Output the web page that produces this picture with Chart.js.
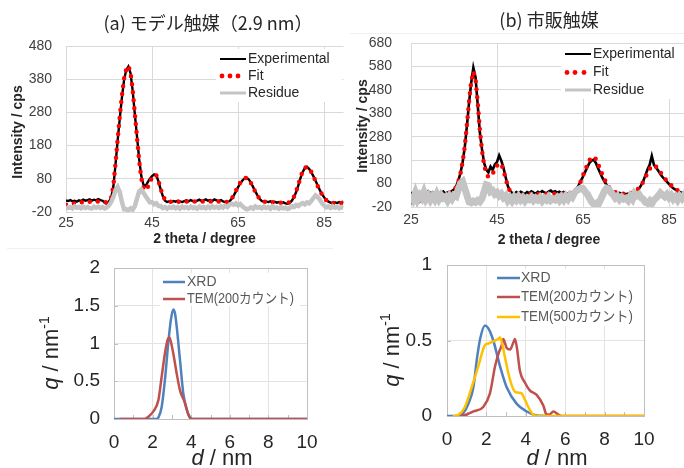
<!DOCTYPE html>
<html><head><meta charset="utf-8">
<script src="https://cdn.jsdelivr.net/npm/chart.js@4.4.1/dist/chart.umd.min.js"></script>
<style>
html,body{margin:0;padding:0;background:#fff;overflow:hidden;width:684px;height:468px;}
canvas{position:absolute;left:0;top:0;}
</style></head><body>
<canvas id="ca" width="700" height="468"></canvas>
<canvas id="cb" width="700" height="468"></canvas>
<canvas id="cc" width="700" height="468"></canvas>
<canvas id="cd" width="700" height="468"></canvas>
<script>
// ---------- data ----------
const theta = [25,25.5,26,26.5,27,27.5,28,28.5,29,29.5,30,30.5,31,31.5,32,32.5,33,33.5,34,34.5,35,35.5,36,36.5,37,37.5,38,38.5,39,39.5,40,40.5,41,41.5,42,42.5,43,43.5,44,44.5,45,45.5,46,46.5,47,47.5,48,48.5,49,49.5,50,50.5,51,51.5,52,52.5,53,53.5,54,54.5,55,55.5,56,56.5,57,57.5,58,58.5,59,59.5,60,60.5,61,61.5,62,62.5,63,63.5,64,64.5,65,65.5,66,66.5,67,67.5,68,68.5,69,69.5,70,70.5,71,71.5,72,72.5,73,73.5,74,74.5,75,75.5,76,76.5,77,77.5,78,78.5,79,79.5,80,80.5,81,81.5,82,82.5,83,83.5,84,84.5,85,85.5,86,86.5,87,87.5,88,88.5,89,89.5,90];

const expA = [15,13,16,12,14,11,15,13,17,14,
16,18,14,17,15,19,16,14,8,5,
12,22,55,122,195,262,325,378,408,418,
398,345,275,208,140,88,62,58,70,80,
88,93,90,72,48,28,14,10,12,10,
13,11,14,12,10,13,15,12,16,13,
11,14,17,13,15,18,14,16,13,18,
15,13,16,12,10,8,12,20,30,42,
55,66,75,81,83,78,68,55,42,30,
20,13,11,12,10,12,9,11,8,10,
7,9,6,5,8,14,25,40,60,82,
100,112,116,110,100,88,74,60,46,34,
24,16,11,8,6,9,7,10,8,11,
9];
const fitA = [2,3,4,5,6,7,8,9,9,10,
10,11,11,11,12,12,12,11,10,9,
12,24,58,125,198,268,330,382,410,420,
400,348,276,205,135,82,52,45,55,70,
84,92,90,74,50,30,17,12,11,11,
11,11,11,11,11,12,12,12,12,12,
12,12,12,12,12,12,12,12,12,12,
12,12,12,12,11,10,13,20,31,44,
57,68,77,82,83,78,67,54,41,29,
20,14,11,10,10,9,9,9,8,8,
8,8,8,8,9,15,26,42,62,84,
102,113,116,111,101,88,73,58,45,33,
23,16,11,8,7,7,7,7,7,7,
7];
const resA = [-4,-8,-5,-9,-3,-7,-5,-9,-4,-8,
-5,-8,-9,-4,-7,-4,-8,-5,-9,-6,
0,10,25,45,55,40,10,-12,-12,-15,
-9,-13,-2,20,42,48,38,28,18,9,
10,3,6,-2,-2,-8,-5,-10,-5,-8,
-4,-9,-5,-10,-4,-8,-5,-9,-4,-8,
-6,-10,-4,-8,-5,-9,-4,-8,-3,-7,
-4,-8,-3,-7,-1,-5,2,5,2,6,
0,4,-3,-8,-12,-10,-6,-10,-3,-7,
-5,-9,-4,-8,-5,-10,-3,-8,-6,-10,
-5,-9,-7,-11,-8,-3,-5,1,-2,4,
7,3,9,6,13,22,30,25,17,6,
0,-6,-3,-8,-3,-7,-4,-9,-5,-8,
-6];

const expB = [42,35,46,38,44,34,41,37,47,39,
43,36,45,40,38,46,37,42,39,48,
55,68,92,125,170,235,325,425,510,575,
535,420,300,228,168,140,128,152,138,162,
172,200,178,148,108,70,50,40,36,44,
38,45,40,36,44,39,47,41,37,45,
40,48,42,38,46,50,43,47,41,45,
39,44,40,37,42,38,45,58,72,92,
110,130,150,168,178,182,168,145,125,105,
88,74,62,52,45,42,38,40,36,38,
34,37,35,38,40,48,58,72,90,115,
140,160,198,160,148,135,120,108,98,88,
78,68,60,54,48,44,40,42,38,40,
37];
const fitB = [0,1,2,4,5,8,12,16,20,24,
28,31,33,35,36,37,38,40,42,46,
52,65,88,122,172,238,330,430,515,558,
528,430,312,222,160,124,108,110,122,140,
156,166,162,138,102,70,48,36,30,29,
30,31,32,33,34,35,35,36,36,36,
36,36,36,36,36,36,36,37,37,37,
37,37,37,38,39,41,44,55,70,90,
115,138,160,180,192,195,185,165,140,118,
98,80,65,55,48,43,40,38,37,36,
36,37,38,41,45,51,60,72,88,106,
125,142,156,158,152,142,128,115,102,92,
82,73,64,57,51,46,42,39,37,36,
35];
const resB = [35,15,40,12,30,18,42,14,28,10,
26,12,34,14,30,18,24,8,26,14,
30,25,55,80,88,60,30,2,-2,5,
0,8,2,15,45,75,72,45,50,35,
42,28,36,20,28,8,20,6,22,10,
24,10,20,6,18,12,22,8,18,10,
20,6,18,10,22,8,15,10,20,8,
22,10,26,14,30,22,40,50,55,60,
58,45,35,18,2,-8,-4,-10,8,28,
48,60,56,42,32,18,26,12,22,14,
18,8,26,14,38,28,34,20,14,0,
-4,6,-6,10,18,28,40,32,24,34,
20,30,14,24,10,26,16,30,14,24,
16];

// size distributions
const dL_xrd = [0,2.2,2.3,2.47,2.64,2.81,2.95,3.07,3.16,3.25,3.42,3.59,3.77,3.94,4.05,10];
const qL_xrd = [0,0,0.02,0.16,0.52,1.0,1.32,1.45,1.40,1.22,0.78,0.34,0.12,0.02,0,0];
const dL_tem = [0.3,1.6,1.78,2.04,2.3,2.47,2.64,2.78,2.87,2.95,3.07,3.25,3.42,3.68,3.85,4.0,10];
const qL_tem = [0,0,0.03,0.10,0.25,0.56,0.87,1.05,1.08,1.02,0.87,0.60,0.38,0.21,0.06,0,0];

const dR_xrd = [0,0.6,0.83,1.08,1.34,1.51,1.68,1.93,2.1,2.35,2.69,3.03,3.54,4.05,4.5,5.0];
const qR_xrd = [0,0,0.02,0.08,0.19,0.37,0.51,0.60,0.58,0.50,0.33,0.19,0.08,0.03,0.005,0];
const dR_t200 = [0.67,1.0,1.34,1.84,2.18,2.44,2.63,2.78,2.86,2.95,3.03,3.2,3.35,3.45,3.55,3.7,3.96,4.2,4.55,4.89,5.05,5.2,5.4,5.65,5.8,10];
const qR_t200 = [0,0.01,0.03,0.06,0.15,0.33,0.42,0.47,0.51,0.48,0.45,0.44,0.48,0.51,0.45,0.30,0.22,0.17,0.14,0.07,0.01,0.01,0.03,0.01,0,0];
const dR_t500 = [0.3,0.6,0.91,1.25,1.59,1.93,2.1,2.27,2.45,2.6,2.69,2.8,2.94,3.2,3.45,3.6,3.79,3.95,4.05,4.3,4.55,10];
const qR_t500 = [0,0.01,0.06,0.19,0.33,0.47,0.48,0.49,0.50,0.51,0.52,0.48,0.39,0.24,0.16,0.155,0.15,0.11,0.08,0.02,0,0];

// ticks & labels
const xTicksTop = [25,45,65,85];
const yTicksA = [-20,80,180,280,380,480];
const yTicksB = [-20,80,180,280,380,480,580,680];
const dTicks = [0,2,4,6,8,10];
const qTicksL = [0,0.5,1,1.5,2];
const qTicksR = [0,0.5,1];
const legendTop = ['Experimental','Fit','Residue'];
const legendBL = ['XRD','TEM(200カウント)'];
const legendBR = ['XRD','TEM(200カウント)','TEM(500カウント)'];
const titleA = '(a) モデル触媒（2.9 nm）';
const titleB = '(b) 市販触媒';

// ---------- helpers ----------
const LAT = '"Liberation Sans", Arial, "Noto Sans CJK JP", sans-serif';
const CJK = '"Noto Sans CJK JP", "Liberation Sans", sans-serif';
const pts = (xs, ys) => xs.map((x, i) => ({x: x, y: ys[i]}));

function linScale(min, max, ticks, opts) {
  return {
    type: 'linear', min: min, max: max,
    afterBuildTicks: s => { s.ticks = ticks.map(v => ({value: v})); },
    afterFit: s => { if (opts.w !== undefined) s.width = opts.w; if (opts.h !== undefined) s.height = opts.h; },
    grid: {color: opts.grid, drawTicks: false, lineWidth: 1},
    border: {display: opts.border !== false, color: opts.grid},
    ticks: {font: {family: LAT, size: opts.fs}, color: opts.tc, padding: opts.pad,
            maxRotation: 0, autoSkip: false, callback: v => String(v)}
  };
}

function drawLegend(ctx, box, items, x0, x1, tx, ys, font, color) {
  ctx.fillStyle = '#fff';
  ctx.fillRect(box[0], box[1], box[2], box[3]);
  items.forEach((it, i) => {
    const y = ys[i];
    if (it.dots) {
      ctx.fillStyle = it.color;
      it.dots.forEach(dx => { ctx.beginPath(); ctx.arc(dx, y, 2.4, 0, Math.PI * 2); ctx.fill(); });
    } else {
      ctx.strokeStyle = it.color; ctx.lineWidth = it.w; ctx.lineCap = 'butt';
      ctx.beginPath(); ctx.moveTo(x0, y); ctx.lineTo(x1, y); ctx.stroke();
    }
    ctx.fillStyle = color; ctx.font = font; ctx.textAlign = 'left'; ctx.textBaseline = 'middle';
    if (it.maxW) ctx.fillText(it.label, tx, y, it.maxW); else ctx.fillText(it.label, tx, y);
  });
}

function text(ctx, s, x, y, font, color, rot) {
  ctx.save();
  ctx.translate(x, y);
  if (rot) ctx.rotate(-Math.PI / 2);
  ctx.font = font; ctx.fillStyle = color; ctx.textAlign = 'center'; ctx.textBaseline = 'middle';
  ctx.fillText(s, 0, 0);
  ctx.restore();
}

function drawDnm(ctx, cx, by) {
  const fi = 'italic 22px ' + LAT, fn = '22px ' + LAT;
  ctx.font = fi; const w1 = ctx.measureText('d').width;
  ctx.font = fn; const w2 = ctx.measureText(' / nm').width;
  const x = cx - (w1 + w2) / 2;
  ctx.fillStyle = '#262626'; ctx.textAlign = 'left'; ctx.textBaseline = 'alphabetic';
  ctx.font = fi; ctx.fillText('d', x, by);
  ctx.font = fn; ctx.fillText(' / nm', x + w1, by);
}

function drawQ(ctx, bx, cy) {
  const fi = 'italic 22px ' + LAT, fn = '22px ' + LAT, fs = '14px ' + LAT;
  ctx.save();
  ctx.translate(bx, cy); ctx.rotate(-Math.PI / 2);
  ctx.font = fi; const w1 = ctx.measureText('q').width;
  ctx.font = fn; const w2 = ctx.measureText(' / nm').width;
  ctx.font = fs; const w3 = ctx.measureText('-1').width;
  const x = -(w1 + w2 + w3) / 2;
  ctx.fillStyle = '#262626'; ctx.textAlign = 'left'; ctx.textBaseline = 'alphabetic';
  ctx.font = fi; ctx.fillText('q', x, 0);
  ctx.font = fn; ctx.fillText(' / nm', x + w1, 0);
  ctx.font = fs; ctx.fillText('-1', x + w1 + w2, -9);
  ctx.restore();
}

function boxAndTicks(chart) {
  const ctx = chart.ctx, a = chart.chartArea, xs = chart.scales.x, ys = chart.scales.y;
  ctx.save();
  ctx.strokeStyle = '#bfbfbf'; ctx.lineWidth = 1;
  ctx.strokeRect(Math.round(a.left) + 0.5, Math.round(a.top) + 0.5, Math.round(a.right - a.left), Math.round(a.bottom - a.top));
  ctx.beginPath();
  for (let v = 1; v < 10; v++) {
    const px = Math.round(xs.getPixelForValue(v)) + 0.5;
    ctx.moveTo(px, a.bottom); ctx.lineTo(px, a.bottom - 4);
  }
  ys.ticks.forEach(t => {
    const py = Math.round(ys.getPixelForValue(t.value)) + 0.5;
    ctx.moveTo(a.left, py); ctx.lineTo(a.left + 4, py);
  });
  ctx.stroke();
  ctx.restore();
}

const common = {
  responsive: false, animation: false, devicePixelRatio: 1,
  elements: {point: {radius: 0, hoverRadius: 0}, line: {tension: 0}},
  plugins: {legend: {display: false}, tooltip: {enabled: false}, title: {display: false}},
  events: []
};

// ---------- chart (a) XRD ----------
new Chart(document.getElementById('ca'), {
  type: 'line',
  data: {datasets: [
    {label: legendTop[0], data: pts(theta, expA), borderColor: '#000', borderWidth: 2.4, order: 3},
    {label: legendTop[1], data: pts(theta, fitA), borderColor: '#ff0000', borderWidth: 4.5, borderDash: [0, 8], borderCapStyle: 'round', order: 2},
    {label: legendTop[2], data: pts(theta, resA), borderColor: '#c4c4c4', borderWidth: 4.5, order: 1}
  ]},
  options: Object.assign({}, common, {
    layout: {padding: {left: 26, top: 46, right: 356.5, bottom: 236}},
    scales: {
      x: linScale(25, 89.5, xTicksTop, {h: 20, grid: '#d9d9d9', fs: 14, tc: '#404040', pad: 3}),
      y: linScale(-20, 480, yTicksA, {w: 40, grid: '#d9d9d9', fs: 14, tc: '#404040', pad: 14})
    }
  }),
  plugins: [{id: 'decoA', afterDraw(chart) {
    const ctx = chart.ctx;
    ctx.save();
    ctx.strokeStyle = '#efefef'; ctx.lineWidth = 1;
    ctx.beginPath(); ctx.moveTo(7, 248.5); ctx.lineTo(333, 248.5); ctx.stroke();
    text(ctx, titleA, 208, 23, '18px ' + CJK, '#262626');
    text(ctx, '2 theta / degree', 204.5, 239.5, 'bold 14px ' + LAT, '#262626');
    text(ctx, 'Intensity / cps', 18, 132, 'bold 14px ' + LAT, '#262626', true);
    drawLegend(ctx, [216, 49, 126, 53], [
      {label: legendTop[0], color: '#000', w: 2},
      {label: legendTop[1], color: '#ff0000', dots: [222, 230, 238]},
      {label: legendTop[2], color: '#c4c4c4', w: 3}
    ], 220, 246, 248, [59, 76, 93], '14px ' + LAT, '#262626');
    ctx.restore();
  }}]
});

// ---------- chart (b) XRD ----------
new Chart(document.getElementById('cb'), {
  type: 'line',
  data: {datasets: [
    {label: legendTop[0], data: pts(theta, expB), borderColor: '#000', borderWidth: 2.6, order: 3},
    {label: legendTop[1], data: pts(theta, fitB), borderColor: '#ff0000', borderWidth: 4.5, borderDash: [0, 8], borderCapStyle: 'round', order: 2},
    {label: legendTop[2], data: pts(theta, resB), borderColor: '#c4c4c4', borderWidth: 7, order: 1}
  ]},
  options: Object.assign({}, common, {
    layout: {padding: {left: 366, top: 43, right: 9.5, bottom: 241}},
    scales: {
      x: linScale(25, 90, xTicksTop, {h: 20, grid: '#d9d9d9', fs: 14, tc: '#404040', pad: 5}),
      y: linScale(-20, 680, yTicksB, {w: 45, grid: '#d9d9d9', fs: 14, tc: '#404040', pad: 19})
    }
  }),
  plugins: [{id: 'decoB', afterDraw(chart) {
    const ctx = chart.ctx;
    ctx.save();
    ctx.strokeStyle = '#efefef'; ctx.lineWidth = 1;
    ctx.beginPath(); ctx.moveTo(350, 33.5); ctx.lineTo(700, 33.5); ctx.stroke();
    text(ctx, titleB, 549, 20, '18px ' + CJK, '#262626');
    text(ctx, '2 theta / degree', 549, 240.5, 'bold 14px ' + LAT, '#262626');
    text(ctx, 'Intensity / cps', 363, 126, 'bold 14px ' + LAT, '#262626', true);
    drawLegend(ctx, [561, 44, 140, 55], [
      {label: legendTop[0], color: '#000', w: 2},
      {label: legendTop[1], color: '#ff0000', dots: [567, 575, 584]},
      {label: legendTop[2], color: '#c4c4c4', w: 3}
    ], 565, 591, 593, [54, 72.5, 90], '14px ' + LAT, '#262626');
    ctx.restore();
  }}]
});

// ---------- chart (a) distribution ----------
const lineOpts = {pointRadius: 0, borderWidth: 2.5, cubicInterpolationMode: 'monotone', fill: false};
new Chart(document.getElementById('cc'), {
  type: 'line',
  data: {datasets: [
    Object.assign({label: legendBL[0], data: pts(dL_xrd, qL_xrd), borderColor: '#4f81bd', order: 2}, lineOpts),
    Object.assign({label: legendBL[1], data: pts(dL_tem, qL_tem), borderColor: '#c0504d', order: 1}, lineOpts)
  ]},
  options: Object.assign({}, common, {
    layout: {padding: {left: 54, top: 268, right: 393, bottom: 19}},
    scales: {
      x: linScale(0, 10, dTicks, {h: 30, grid: '#e3e3e3', fs: 19, tc: '#262626', pad: 12, border: false}),
      y: linScale(0, 2, qTicksL, {w: 60, grid: '#e3e3e3', fs: 19, tc: '#262626', pad: 14, border: false})
    }
  }),
  plugins: [{id: 'decoC', beforeDatasetsDraw(chart) { boxAndTicks(chart); },
    afterDraw(chart) {
      const ctx = chart.ctx;
      ctx.save();
      drawLegend(ctx, [160, 273, 140, 33], [
        {label: legendBL[0], color: '#4f81bd', w: 2.5},
        {label: legendBL[1], color: '#c0504d', w: 2.5, maxW: 107}
      ], 163, 185, 187, [282, 299], '14px ' + LAT, '#595959');
      drawDnm(ctx, 222, 465);
      drawQ(ctx, 58, 353);
      ctx.restore();
    }}]
});

// ---------- chart (b) distribution ----------
new Chart(document.getElementById('cd'), {
  type: 'line',
  data: {datasets: [
    Object.assign({label: legendBR[0], data: pts(dR_xrd, qR_xrd), borderColor: '#4f81bd', order: 3}, lineOpts),
    Object.assign({label: legendBR[1], data: pts(dR_t200, qR_t200), borderColor: '#c0504d', order: 2}, lineOpts),
    Object.assign({label: legendBR[2], data: pts(dR_t500, qR_t500), borderColor: '#ffc000', order: 1}, lineOpts)
  ]},
  options: Object.assign({}, common, {
    layout: {padding: {left: 387, top: 265, right: 56, bottom: 22}},
    scales: {
      x: linScale(0, 10, dTicks, {h: 30, grid: '#e3e3e3', fs: 19, tc: '#262626', pad: 12, border: false}),
      y: linScale(0, 1, qTicksR, {w: 60, grid: '#e3e3e3', fs: 19, tc: '#262626', pad: 15, border: false})
    }
  }),
  plugins: [{id: 'decoD', beforeDatasetsDraw(chart) { boxAndTicks(chart); },
    afterDraw(chart) {
      const ctx = chart.ctx;
      ctx.save();
      drawLegend(ctx, [494, 269, 142, 57], [
        {label: legendBR[0], color: '#4f81bd', w: 2.5},
        {label: legendBR[1], color: '#c0504d', w: 2.5, maxW: 112},
        {label: legendBR[2], color: '#ffc000', w: 2.5, maxW: 112}
      ], 497, 520, 521, [278, 297, 317], '14px ' + LAT, '#595959');
      drawDnm(ctx, 557, 465);
      drawQ(ctx, 399, 350);
      ctx.restore();
    }}]
});
</script>
</body></html>
